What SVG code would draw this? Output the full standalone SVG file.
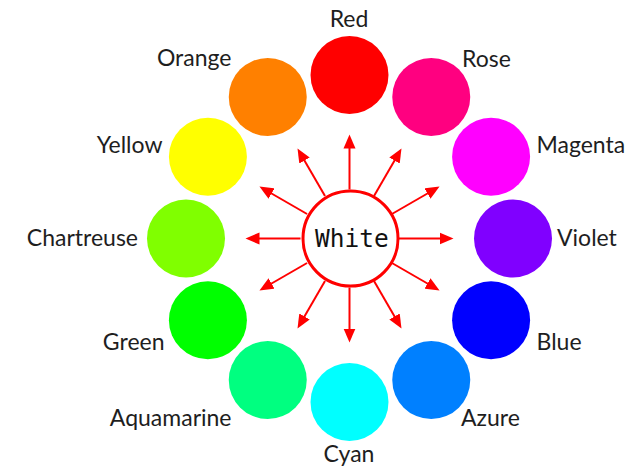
<svg xmlns="http://www.w3.org/2000/svg" width="630" height="475" viewBox="0 0 630 475">
<style>
.lbl{font-family:Lato,"Noto Sans",sans-serif;font-size:23px;fill:#1e1e1e}
.s{text-anchor:start}.e{text-anchor:end}.m{text-anchor:middle}
.arr{stroke:#ff0000;stroke-width:2;fill:none;marker-end:url(#ah)}
</style>
<defs>
<marker id="ah" markerUnits="userSpaceOnUse" markerWidth="15" markerHeight="13" viewBox="0 -6.5 15 13" refX="1" refY="0" orient="auto">
<path d="M0,-6 L14,0 L0,6 z" fill="#ff0000"/>
</marker>
</defs>
<rect width="630" height="475" fill="#ffffff"/>
<g id="connectors">
<line class="arr" x1="398.5" y1="238.5" x2="440.5" y2="238.5"/>
<line class="arr" x1="391.93" y1="214" x2="428.31" y2="193"/>
<line class="arr" x1="374" y1="196.07" x2="395" y2="159.69"/>
<line class="arr" x1="349.5" y1="189.5" x2="349.5" y2="147.5"/>
<line class="arr" x1="325" y1="196.07" x2="304" y2="159.69"/>
<line class="arr" x1="307.07" y1="214" x2="270.69" y2="193"/>
<line class="arr" x1="300.5" y1="238.5" x2="258.5" y2="238.5"/>
<line class="arr" x1="307.07" y1="263" x2="270.69" y2="284"/>
<line class="arr" x1="325" y1="280.93" x2="304" y2="317.31"/>
<line class="arr" x1="349.5" y1="287.5" x2="349.5" y2="329.5"/>
<line class="arr" x1="374" y1="280.93" x2="395" y2="317.31"/>
<line class="arr" x1="391.93" y1="263" x2="428.31" y2="284"/>
</g>
<g id="white">
<circle cx="350.5" cy="238.5" r="47.5" fill="#ffffff" stroke="#ff0000" stroke-width="3"/>
<text x="352" y="246.5" text-anchor="middle" style="font-family:'DejaVu Sans Mono',monospace;font-size:24.5px;fill:#111">White</text>
</g>
<g id="red"><circle cx="349.5" cy="75" r="39" fill="#ff0000"/><text class="lbl m" x="349" y="27">Red</text></g>
<g id="rose"><circle cx="431.25" cy="96.91" r="39" fill="#ff0080"/><text class="lbl s" x="462" y="66.5">Rose</text></g>
<g id="magenta"><circle cx="491.09" cy="156.75" r="39" fill="#ff00ff"/><text class="lbl s" x="536.5" y="153">Magenta</text></g>
<g id="violet"><circle cx="513" cy="238.5" r="39" fill="#8000ff"/><text class="lbl s" x="557" y="245.5">Violet</text></g>
<g id="blue"><circle cx="491.09" cy="320.25" r="39" fill="#0000ff"/><text class="lbl s" x="536.5" y="349.5">Blue</text></g>
<g id="azure"><circle cx="431.25" cy="380.09" r="39" fill="#0080ff"/><text class="lbl s" x="461" y="426">Azure</text></g>
<g id="cyan"><circle cx="349.5" cy="402" r="39" fill="#00ffff"/><text class="lbl m" x="349" y="462">Cyan</text></g>
<g id="aquamarine"><circle cx="267.75" cy="380.09" r="39" fill="#00ff80"/><text class="lbl e" x="231.5" y="426">Aquamarine</text></g>
<g id="green"><circle cx="207.91" cy="320.25" r="39" fill="#00ff00"/><text class="lbl e" x="164.5" y="350">Green</text></g>
<g id="chartreuse"><circle cx="186" cy="238.5" r="39" fill="#80ff00"/><text class="lbl e" x="138" y="246">Chartreuse</text></g>
<g id="yellow"><circle cx="207.91" cy="156.75" r="39" fill="#ffff00"/><text class="lbl e" x="162.5" y="153">Yellow</text></g>
<g id="orange"><circle cx="267.75" cy="96.91" r="39" fill="#ff8000"/><text class="lbl e" x="231.5" y="66">Orange</text></g>
</svg>
